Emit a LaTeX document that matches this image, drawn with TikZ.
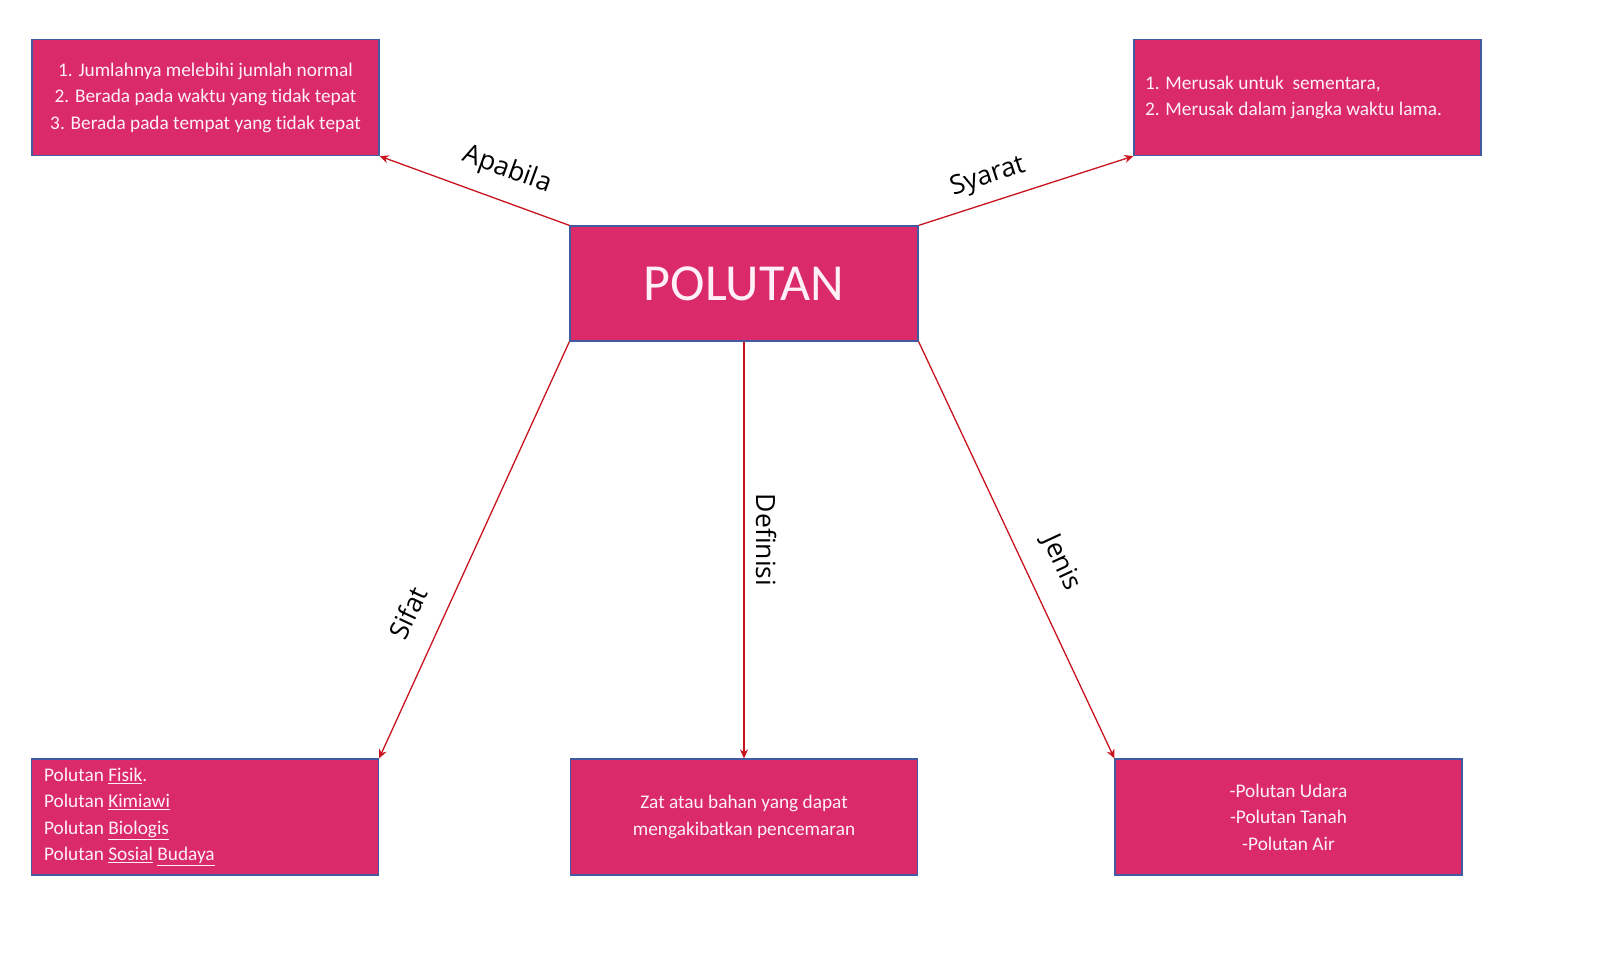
\documentclass[tikz,border=0pt]{standalone}
\usepackage{fontspec}
\setmainfont[Ligatures={NoCommon}]{Carlito}
\newfontfamily\lblfont{Open Sans}
\usetikzlibrary{arrows.meta}
\definecolor{boxfill}{RGB}{218,42,106}
\definecolor{boxline}{RGB}{65,90,160}
\definecolor{arrowred}{RGB}{200,20,30}
\definecolor{txtcol}{RGB}{255,240,245}
\tikzset{
  box/.style={draw=boxline, line width=1.2pt, fill=boxfill, text=txtcol, minimum width=347pt, minimum height=116pt, inner sep=0pt, font=\fontsize{19.3}{26.5}\selectfont},
  conn/.style={draw=arrowred, line width=1.3pt, -{Stealth[length=9pt,width=8pt]}},
  lbl/.style={font=\lblfont\fontsize{26.5}{30}\selectfont, text=black, inner sep=0pt}
}
\begin{document}
\begin{tikzpicture}[x=1pt,y=-1pt]
\useasboundingbox (0,0) rectangle (1600,978);
\node[box, align=center] (tl) at (205.5,97.5) {1. Jumlahnya melebihi jumlah normal\\2. Berada pada waktu yang tidak tepat\\3. Berada pada tempat yang tidak tepat};
\node[box, align=flush left, text width=325pt] (tr) at (1307.5,97.5) {1. Merusak untuk\ \ sementara,\\2. Merusak dalam jangka waktu lama.};
\node[box, minimum width=348pt, minimum height=115pt, font=\fontsize{52}{60}\selectfont] (c) at (744,283.5) {POLUTAN};
\node[box, align=flush left, text width=322pt] (bl) at (205,817) {Polutan \underline{Fisik}.\\Polutan \underline{Kimiawi}\\Polutan \underline{Biologis}\\Polutan \underline{Sosial} \underline{Budaya}};
\node[box, align=center] (bm) at (744,817) {Zat atau bahan yang dapat\\mengakibatkan pencemaran};
\node[box, align=center] (br) at (1288.5,817) {-Polutan Udara\\-Polutan Tanah\\-Polutan Air};
\draw[conn] (c.north west) -- (tl.south east);
\draw[conn] (c.north east) -- (tr.south west);
\draw[conn] (c.south west) -- (bl.north east);
\draw[conn] (c.south) -- (bm.north);
\draw[conn] (c.south east) -- (br.north west);
\node[lbl, rotate=-20] (lA) at (507,170) {Apabila};
\node[lbl, rotate=18] (lS) at (988,177) {Syarat};
\node[lbl, rotate=65] (lF) at (408,613) {Sifat};
\node[lbl, rotate=-90] (lD) at (766,540) {Definisi};
\node[lbl, rotate=-65] (lJ) at (1061,563) {Jenis};
\end{tikzpicture}
\end{document}
